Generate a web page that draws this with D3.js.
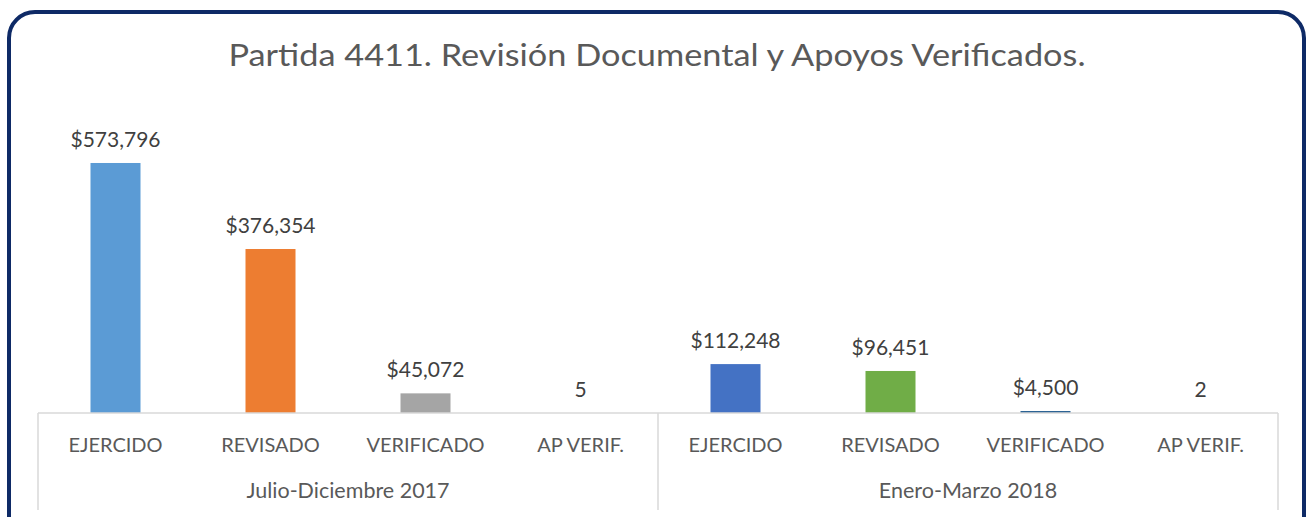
<!DOCTYPE html>
<html lang="es">
  <head>
    <meta charset="UTF-8" />
    <title>Partida 4411</title>
    <script src="https://cdn.jsdelivr.net/npm/d3@7"></script>
    <style>
      body {
        margin: 0;
        padding: 0;
        background: #fff;
      }
    </style>
  </head>

  <body>
    <svg width="1308" height="517"></svg>

    <script>
      var title = 'Partida 4411. Revisión Documental y Apoyos Verificados.'
      var groups = ['Julio-Diciembre 2017', 'Enero-Marzo 2018']
      var categories = ['EJERCIDO', 'REVISADO', 'VERIFICADO', 'AP VERIF.']
      var values2017 = [573796, 376354, 45072, 5]
      var values2018 = [112248, 96451, 4500, 2]
      var colors2017 = ['#5B9BD5', '#ED7D31', '#A5A5A5', '#FFC000']
      var colors2018 = ['#4472C4', '#70AD47', '#255E91', '#9E480E']
      // los apoyos no son dinero, sin signo de pesos
      var isMoney = [true, true, true, false]

      var data = []
      ;[values2017, values2018].forEach(function (vals, gi) {
        vals.forEach(function (v, ci) {
          data.push({
            group: gi,
            cat: ci,
            value: v,
            color: (gi === 0 ? colors2017 : colors2018)[ci],
          })
        })
      })

      var svg = d3.select('svg')
      var font = 'Lato, "Open Sans", sans-serif'

      // marco redondeado
      svg
        .append('rect')
        .attr('x', 9)
        .attr('y', 12)
        .attr('width', 1295)
        .attr('height', 540)
        .attr('rx', 26)
        .attr('fill', '#fff')
        .attr('stroke', '#0E2A66')
        .attr('stroke-width', 4)

      svg
        .append('text')
        .text(title)
        .attr('x', 657)
        .attr('y', 66)
        .attr('text-anchor', 'middle')
        .attr('font-family', font)
        .attr('font-size', 30)
        .attr('fill', '#595959')
        .attr('textLength', 857)
        .attr('lengthAdjust', 'spacingAndGlyphs')

      var left = 38
      var right = 1278
      var base = 413

      var xScale = d3
        .scaleBand()
        .domain(d3.range(data.length))
        .range([left, right])
      var yScale = d3.scaleLinear().domain([0, 700000]).range([base, 108])
      var barW = 50

      var gs = svg.selectAll('.bar').data(data).enter().append('g')

      gs.append('rect')
        .attr('x', (d, i) => xScale(i) + (xScale.bandwidth() - barW) / 2)
        .attr('y', (d) => yScale(d.value))
        .attr('width', barW)
        .attr('height', (d) => base - yScale(d.value))
        .attr('fill', (d) => d.color)

      gs.append('text')
        .text((d) => (isMoney[d.cat] ? '$' : '') + d3.format(',')(d.value))
        .attr('x', (d, i) => xScale(i) + xScale.bandwidth() / 2)
        .attr('y', (d) => yScale(d.value) - 16)
        .attr('text-anchor', 'middle')
        .attr('font-family', font)
        .attr('font-size', 21)
        .attr('fill', '#404040')

      // eje de categorías en dos niveles
      var axis = svg.append('g')
      axis
        .append('line')
        .attr('x1', left)
        .attr('x2', right)
        .attr('y1', base)
        .attr('y2', base)
        .attr('stroke', '#D9D9D9')
        .attr('stroke-width', 1.5)

      var groupW = (right - left) / groups.length
      d3.range(groups.length + 1).forEach(function (k) {
        axis
          .append('line')
          .attr('x1', left + k * groupW)
          .attr('x2', left + k * groupW)
          .attr('y1', base)
          .attr('y2', 510)
          .attr('stroke', '#D9D9D9')
          .attr('stroke-width', 1.5)
      })

      axis
        .selectAll('.cat')
        .data(data)
        .enter()
        .append('text')
        .text((d) => categories[d.cat])
        .attr('x', (d, i) => xScale(i) + xScale.bandwidth() / 2)
        .attr('y', 452)
        .attr('text-anchor', 'middle')
        .attr('font-family', font)
        .attr('font-size', 20)
        .attr('fill', '#595959')

      axis
        .selectAll('.grp')
        .data(groups)
        .enter()
        .append('text')
        .text((d) => d)
        .attr('x', (d, i) => left + groupW * (i + 0.5))
        .attr('y', 498)
        .attr('text-anchor', 'middle')
        .attr('font-family', font)
        .attr('font-size', 21.5)
        .attr('fill', '#595959')
    </script>
  </body>
</html>
